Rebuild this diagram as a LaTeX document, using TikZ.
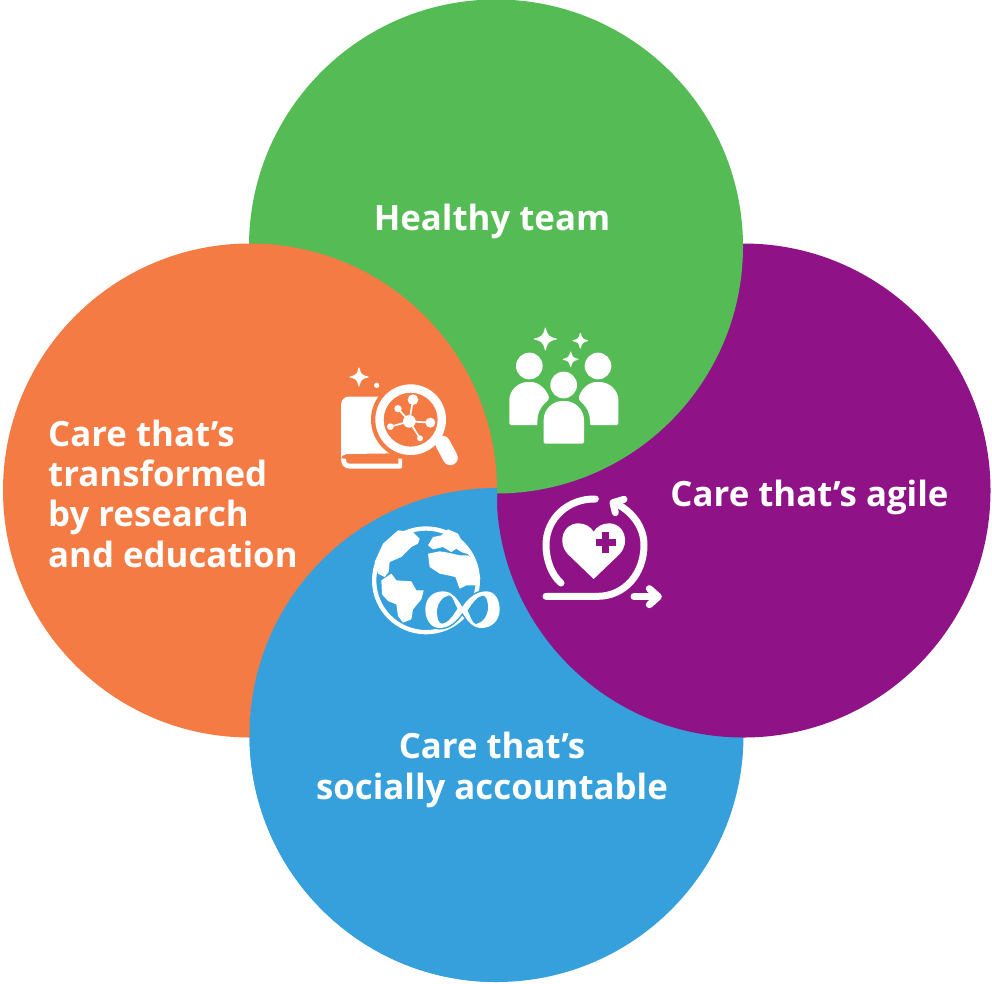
\documentclass[tikz,border=0pt]{standalone}
\usepackage{fontspec}
\setmainfont{Open Sans}[BoldFont=Open Sans Bold]
\definecolor{cgreen}{HTML}{55BB55}
\definecolor{corange}{HTML}{F47B44}
\definecolor{cpurple}{HTML}{8F1387}
\definecolor{cblue}{HTML}{35A0DB}
\tikzset{
 petal/.style={circle,minimum size=494pt,inner sep=0pt,outer sep=0pt},
 lab/.style={text=white,font=\fontsize{34.8}{40.3}\selectfont\bfseries,inner sep=0pt},
 heavyline/.style={white,line width=7pt,line cap=round,line join=round},
}
\newcommand{\sparkle}[3]{% x y r
 \filldraw[white,line width=1pt,line join=round] (#1,#2-#3) .. controls (#1+.15*#3,#2-.3*#3) and (#1+.3*#3,#2-.15*#3) .. (#1+#3,#2)
  .. controls (#1+.3*#3,#2+.15*#3) and (#1+.15*#3,#2+.3*#3) .. (#1,#2+#3)
  .. controls (#1-.15*#3,#2+.3*#3) and (#1-.3*#3,#2+.15*#3) .. (#1-#3,#2)
  .. controls (#1-.3*#3,#2-.15*#3) and (#1-.15*#3,#2-.3*#3) .. (#1,#2-#3) -- cycle;}
\begin{document}
\begin{tikzpicture}[x=1pt,y=-1pt]
\useasboundingbox (0,0) rectangle (992,983);
\fill[white] (0,0) rectangle (992,983);
\node[petal,fill=cblue] (blue) at (496.5,735) {};
\node[petal,fill=cpurple] (purple) at (743.5,490.5) {};
\node[petal,fill=cgreen] (green) at (496,246.5) {};
\node[petal,fill=corange] (orange) at (250,490.5) {};
\begin{scope}
 \clip (0,470) rectangle (497,983);
 \fill[cblue] (496.5,735) circle (247);
\end{scope}
\node[lab,anchor=center] (t1) at (492,221.5) {Healthy team};
\node[lab,anchor=center] (t2) at (809.5,497) {Care that’s agile};
\node[lab,anchor=west,align=left] (t3) at (48,493.5) {Care that’s\\transformed\\by research\\and education};
\node[lab,anchor=center,align=center] (t4) at (492,770) {Care that’s\\socially accountable};
% team + book icons (zoom coordinates)
\begin{scope}[xshift=330pt,yshift=-320pt,x=0.33333pt,y=-0.33333pt]
 % people
 \fill[white] (598,138) circle (40);
 \fill[white] (804,138) circle (40);
 \fill[white,rounded corners=1.5pt] (538,315) -- (538,245) .. controls (538,210) and (565,186) .. (598,186) .. controls (625,186) and (648,205) .. (658,235) -- (640,260) -- (625,315) -- cycle;
 \fill[white,rounded corners=1.5pt] (865,315) -- (865,245) .. controls (865,210) and (838,186) .. (804,186) .. controls (777,186) and (755,205) .. (745,235) -- (762,260) -- (778,315) -- cycle;
 \fill[cgreen] (622,315) -- (622,304) .. controls (622,260) and (658,228) .. (701,228) .. controls (744,228) and (780,260) .. (780,304) -- (780,330) -- (622,330) -- cycle;
 \fill[white] (701,195) circle (40);
 \fill[white,rounded corners=1.5pt] (641,371) -- (641,304) .. controls (641,268) and (668,243) .. (701,243) .. controls (734,243) and (762,268) .. (762,304) -- (762,371) -- cycle;
 \sparkle{646}{57}{33}
 \sparkle{751}{62}{22}
 \sparkle{722}{118}{22}
 % book
 \sparkle{87}{171}{27}
 \fill[white] (140,196) circle (8);
 \fill[white,rounded corners=2pt] (33,420) -- (33,260) .. controls (33,240) and (45,230) .. (60,230) -- (160,230) -- (200,400) -- (55,402) .. controls (40,403) and (33,410) .. (33,420) -- cycle;
 \fill[white] (33,415) .. controls (33,435) and (42,446) .. (60,446) -- (210,446) .. controls (214,446) and (216,444) .. (216,440) -- (216,416) -- (205,416) -- (205,431) -- (60,431) .. controls (50,431) and (47,424) .. (47,416) -- cycle;
 \fill[corange] (242,299) circle (119);
 % magnifier
 \draw[white,line width=15pt,line cap=round] (338,370) -- (361,413);
 \draw[white,line width=8pt] (325,350) -- (345,378);
 \fill[white,even odd rule] (242,299) circle (106) (242,299) circle (81);
 \fill[white] (238,304) circle (19);
 \draw[white,line width=1.7pt] (238,304) -- (249,239) (238,304) -- (204,266) (238,304) -- (301,308) (238,304) -- (181,320) (238,304) -- (270,355);
 \fill[white] (249,239) circle (16);
 \fill[white] (204,266) circle (11);
 \fill[white] (301,308) circle (15);
 \fill[white] (181,320) circle (10);
 \fill[white] (270,355) circle (9);
\end{scope}
% heart icon
\begin{scope}[xshift=360pt,yshift=-480pt,x=0.33333pt,y=-0.33333pt]
 \draw[heavyline] (706,57) .. controls (625,55) and (558,115) .. (558,195) .. controls (558,240) and (575,285) .. (603,309);
 \draw[heavyline] (558,349) -- (712,349) .. controls (795,349) and (852,280) .. (852,195) .. controls (852,145) and (822,100) .. (772,72);
 \draw[heavyline] (792,58) -- (759,68) -- (766,98);
 \draw[heavyline] (822,350) -- (890,350);
 \draw[heavyline] (868,326) -- (895,350) -- (868,374);
 \fill[white] (701,297) -- (623,222) .. controls (590,185) and (610,130) .. (655,130) .. controls (675,130) and (692,140) .. (701,155) .. controls (710,140) and (727,130) .. (747,130) .. controls (792,130) and (812,185) .. (779,222) -- cycle;
 \fill[cpurple] (727,156) rectangle (748,218);
 \fill[cpurple] (707,176) rectangle (768,198);
\end{scope}
% globe
\begin{scope}[xshift=368pt,yshift=-522pt,x=0.33333pt,y=-0.33333pt]
 \begin{scope}
  \clip (0,0) rectangle (340,340);
  \fill[white,even odd rule] (174,175) circle (162) (174,175) circle (149);
 \end{scope}
 \fill[white] (20,120) -- (30,155) -- (50,165) -- (62,150) -- (65,120) -- (100,105) -- (130,75) -- (150,65) -- (155,50) -- (135,30) -- (90,25) -- (45,65) -- cycle;
 \fill[white] (180,70) -- (195,45) -- (220,40) -- (240,22) -- (270,35) -- (302,97) -- (280,90) -- (265,80) -- (250,90) -- (225,75) -- (195,82) -- cycle;
 \fill[white] (180,95) -- (215,88) -- (240,92) -- (275,100) -- (300,100) -- (325,125) -- (337,170) -- (328,190) -- (295,190) -- (275,200) -- (262,165) -- (240,160) -- (215,155) -- (185,135) -- cycle;
 \fill[white] (40,175) -- (70,155) -- (85,175) -- (130,178) -- (145,205) -- (167,205) -- (160,232) -- (135,262) -- (130,292) -- (105,302) -- (90,282) -- (85,247) -- (60,237) -- (42,217) -- cycle;
 \path[draw=cblue,line width=3pt]
  (172,262) .. controls (172,228) and (195,208) .. (225,208) .. controls (255,208) and (270,235) .. (283,255)
  .. controls (300,228) and (325,208) .. (355,208) .. controls (380,208) and (395,232) .. (395,262)
  .. controls (395,295) and (372,318) .. (340,318) .. controls (310,318) and (295,290) .. (283,272)
  .. controls (268,295) and (245,318) .. (215,318) .. controls (190,318) and (172,295) .. (172,262) -- cycle;
 \fill[white] (172,262) .. controls (172,228) and (195,208) .. (225,208) .. controls (255,208) and (270,235) .. (283,255)
  .. controls (300,228) and (325,208) .. (355,208) .. controls (380,208) and (395,232) .. (395,262)
  .. controls (395,295) and (372,318) .. (340,318) .. controls (310,318) and (295,290) .. (283,272)
  .. controls (268,295) and (245,318) .. (215,318) .. controls (190,318) and (172,295) .. (172,262) -- cycle;
 \fill[cblue] (243,220) .. controls (222,224) and (207,247) .. (207,270) .. controls (207,290) and (213,304) .. (222,305) .. controls (238,305) and (256,280) .. (268,260) .. controls (258,242) and (255,222) .. (243,220) -- cycle;
 \fill[cblue] (324,306) .. controls (345,302) and (360,279) .. (360,256) .. controls (360,236) and (354,222) .. (345,221) .. controls (329,221) and (311,246) .. (299,266) .. controls (309,284) and (312,304) .. (324,306) -- cycle;
\end{scope}
\end{tikzpicture}
\end{document}
